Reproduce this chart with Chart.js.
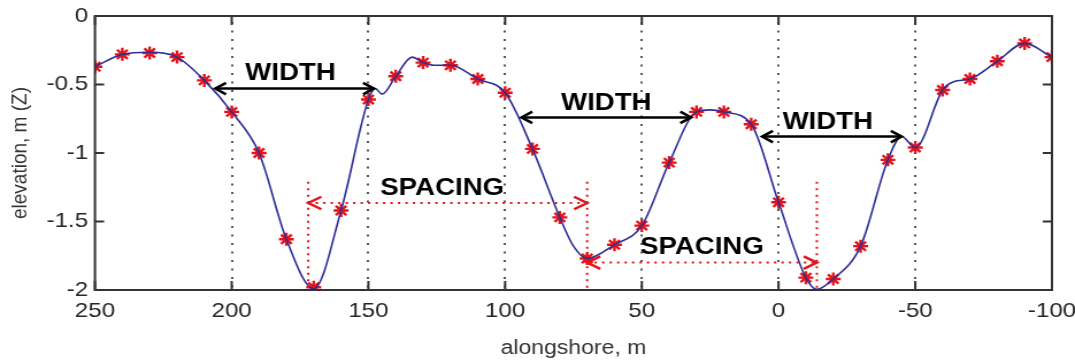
<!DOCTYPE html>
<html>
<head>
<meta charset="utf-8">
<script src="https://cdn.jsdelivr.net/npm/chart.js@4.4.0/dist/chart.umd.min.js"></script>
<style>
  html, body { margin: 0; padding: 0; background: #fff; overflow: hidden; }
  /* figure élargie horizontalement comme l'export d'origine */
  #cadre { width: 935px; height: 360px; transform: scaleX(1.1497); transform-origin: 0 0; }
</style>
</head>
<body>
<div id="cadre"><canvas id="profil"></canvas></div>
<script>
// Relevés tous les 10 m le long du rivage
const alongshore = [250, 240, 230, 220, 210, 200, 190, 180, 170, 160, 150, 140, 130, 120, 110, 100,
  90, 80, 70, 60, 50, 40, 30, 20, 10, 0, -10, -20, -30, -40, -50, -60, -70, -80, -90, -100];
const elevation = [-0.37, -0.28, -0.27, -0.30, -0.47, -0.70, -1.00, -1.63, -1.98, -1.42, -0.61, -0.44,
  -0.34, -0.36, -0.46, -0.56, -0.97, -1.47, -1.77, -1.67, -1.53, -1.07, -0.70, -0.70, -0.79, -1.36,
  -1.91, -1.92, -1.68, -1.05, -0.96, -0.54, -0.46, -0.33, -0.20, -0.30];

// Profil continu (plus de points que les relevés)
const profilX = [250, 240, 230, 220, 210, 200, 190, 180, 170, 160, 150, 147.5, 145, 140, 134, 130, 126,
  120, 110, 100, 90, 80, 75, 70, 60, 50, 40, 30, 25, 20, 10, 0, -10, -14, -20, -30, -40, -45, -50,
  -60, -64, -70, -80, -90, -100];
const profilZ = [-0.37, -0.28, -0.265, -0.30, -0.47, -0.70, -1.00, -1.63, -1.99, -1.42, -0.61, -0.53,
  -0.57, -0.44, -0.30, -0.34, -0.36, -0.36, -0.46, -0.56, -0.97, -1.47, -1.68, -1.77, -1.67, -1.53,
  -1.07, -0.70, -0.685, -0.70, -0.79, -1.36, -1.91, -1.995, -1.92, -1.68, -1.05, -0.88, -0.96,
  -0.54, -0.48, -0.46, -0.33, -0.20, -0.30];

const ticksX = [250, 200, 150, 100, 50, 0, -50, -100];
const ticksZ = [0, -0.5, -1, -1.5, -2];

// Largeur des barres (flèches noires)
const largeurDebut = [206, 94, 6];
const largeurFin = [148, 32, -45];
const largeurZ = [-0.53, -0.74, -0.88];
const largeurTexteX = [178.5, 63, -18];
const largeurTexteZ = [-0.42, -0.635, -0.78];

// Espacement entre creux (flèches rouges)
const creuxX = [172, 70, -14];
const creuxHaut = -1.21;
const espacementZ = [-1.365, -1.80];
const espacementTexteX = [123, 28];
const espacementTexteZ = [-1.26, -1.69];

const police = '"Liberation Sans", Arial, sans-serif';

function fleche(ctx, x1, y1, x2, y2, long, ouverture) {
  // pointe ouverte en chevron au point (x2, y2)
  const ang = Math.atan2(y2 - y1, x2 - x1);
  ctx.beginPath();
  ctx.moveTo(x2 - long * Math.cos(ang - ouverture), y2 - long * Math.sin(ang - ouverture));
  ctx.lineTo(x2, y2);
  ctx.lineTo(x2 - long * Math.cos(ang + ouverture), y2 - long * Math.sin(ang + ouverture));
  ctx.stroke();
}

const habillage = {
  id: 'habillage',
  beforeDatasetsDraw(chart) {
    const { ctx, chartArea: a, scales: { x } } = chart;
    ctx.save();
    ctx.strokeStyle = '#555';
    ctx.lineWidth = 2;
    ctx.setLineDash([2, 6.5]);
    ticksX.slice(1, -1).forEach(v => {
      const px = Math.round(x.getPixelForValue(v));
      ctx.beginPath();
      ctx.moveTo(px, a.top + 6);
      ctx.lineTo(px, a.bottom);
      ctx.stroke();
    });
    ctx.restore();
  },
  afterDatasetsDraw(chart) {
    const { ctx, chartArea: a, scales: { x, y } } = chart;
    ctx.save();

    // flèches de largeur
    ctx.strokeStyle = '#000';
    ctx.lineWidth = 2.5;
    largeurDebut.forEach((d, i) => {
      const x1 = x.getPixelForValue(d), x2 = x.getPixelForValue(largeurFin[i]);
      const py = y.getPixelForValue(largeurZ[i]);
      ctx.beginPath();
      ctx.moveTo(x1, py);
      ctx.lineTo(x2, py);
      ctx.stroke();
      fleche(ctx, x1, py, x2, py, 11, 0.55);
      fleche(ctx, x2, py, x1, py, 11, 0.55);
    });

    // lignes des creux et flèches d'espacement
    ctx.strokeStyle = '#e3141c';
    ctx.lineWidth = 2;
    ctx.setLineDash([2, 4.5]);
    creuxX.forEach(v => {
      const px = x.getPixelForValue(v);
      ctx.beginPath();
      ctx.moveTo(px, y.getPixelForValue(creuxHaut));
      ctx.lineTo(px, a.bottom);
      ctx.stroke();
    });
    espacementZ.forEach((z, i) => {
      const x1 = x.getPixelForValue(creuxX[i]), x2 = x.getPixelForValue(creuxX[i + 1]);
      const py = y.getPixelForValue(z);
      ctx.setLineDash([2, 4.5]);
      ctx.beginPath();
      ctx.moveTo(x1, py);
      ctx.lineTo(x2, py);
      ctx.stroke();
      ctx.setLineDash([]);
      ctx.lineWidth = 2.5;
      fleche(ctx, x1, py, x2, py, 13, 0.5);
      fleche(ctx, x2, py, x1, py, 13, 0.5);
      ctx.lineWidth = 2;
    });
    ctx.setLineDash([]);

    // textes
    ctx.fillStyle = '#000';
    ctx.textAlign = 'center';
    ctx.textBaseline = 'middle';
    ctx.font = 'bold 24px ' + police;
    largeurTexteX.forEach((v, i) => {
      ctx.fillText('WIDTH', x.getPixelForValue(v), y.getPixelForValue(largeurTexteZ[i]));
    });
    espacementTexteX.forEach((v, i) => {
      ctx.fillText('SPACING', x.getPixelForValue(v), y.getPixelForValue(espacementTexteZ[i]));
    });

    // cadre et graduations intérieures
    ctx.strokeStyle = '#333';
    ctx.lineWidth = 2;
    ctx.strokeRect(a.left, a.top, a.right - a.left, a.bottom - a.top);
    ctx.beginPath();
    ticksX.forEach(v => {
      const px = x.getPixelForValue(v);
      ctx.moveTo(px, a.bottom); ctx.lineTo(px, a.bottom - 9);
      ctx.moveTo(px, a.top); ctx.lineTo(px, a.top + 9);
    });
    ticksZ.forEach(v => {
      const py = y.getPixelForValue(v);
      ctx.moveTo(a.left, py); ctx.lineTo(a.left + 8, py);
      ctx.moveTo(a.right, py); ctx.lineTo(a.right - 8, py);
    });
    ctx.stroke();
    ctx.restore();
  }
};

new Chart(document.getElementById('profil'), {
  type: 'scatter',
  data: {
    datasets: [
      {
        data: profilX.map((v, i) => ({ x: v, y: profilZ[i] })),
        showLine: true,
        borderColor: '#2e2e96',
        borderWidth: 1.6,
        pointRadius: 0,
        cubicInterpolationMode: 'monotone',
        order: 1
      },
      {
        data: alongshore.map((v, i) => ({ x: v, y: elevation[i] })),
        showLine: false,
        pointStyle: 'star',
        pointRadius: 6.5,
        borderWidth: 2.4,
        borderColor: '#e3141c',
        backgroundColor: '#e3141c',
        order: 2
      }
    ]
  },
  options: {
    responsive: true,
    maintainAspectRatio: false,
    animation: false,
    events: [],
    layout: { padding: { left: 0, right: 20, top: 16, bottom: 0 } },
    plugins: { legend: { display: false }, tooltip: { enabled: false } },
    scales: {
      x: {
        type: 'linear',
        reverse: true,
        min: -100,
        max: 250,
        afterBuildTicks: s => { s.ticks = ticksX.map(v => ({ value: v })); },
        afterFit: s => { s.height = 70; s.paddingLeft = 0; s.paddingRight = 0; },
        grid: { display: false, drawTicks: false },
        border: { display: false },
        ticks: {
          autoSkip: false,
          maxRotation: 0,
          padding: 9,
          color: '#262626',
          font: { family: police, size: 21 },
          callback: v => String(v)
        },
        title: {
          display: true,
          text: 'alongshore, m',
          color: '#333',
          font: { family: police, size: 20 },
          padding: { top: 0, bottom: 0 }
        }
      },
      y: {
        min: -2,
        max: 0,
        afterBuildTicks: s => { s.ticks = ticksZ.map(v => ({ value: v })); },
        afterFit: s => { s.width = 82.6; s.paddingTop = 0; s.paddingBottom = 0; },
        grid: { display: false, drawTicks: false },
        border: { display: false },
        ticks: {
          padding: 6,
          color: '#262626',
          font: { family: police, size: 21 },
          callback: v => String(v)
        },
        title: {
          display: true,
          text: 'elevation, m (Z)',
          color: '#333',
          font: { family: police, size: 19 },
          padding: { top: 6.5, bottom: 0 }
        }
      }
    }
  },
  plugins: [habillage]
});
</script>
</body>
</html>
